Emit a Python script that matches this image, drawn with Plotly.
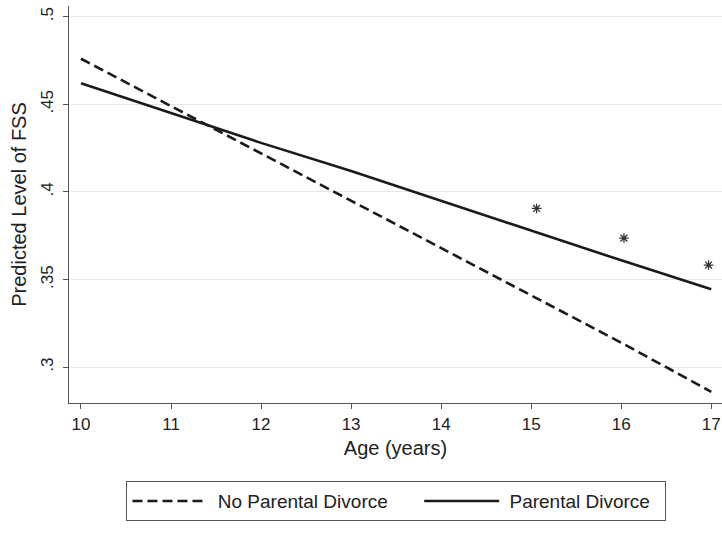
import plotly.graph_objects as go

ages = [10, 11, 12, 13, 14, 15, 16, 17]
no_divorce = [0.476, 0.449, 0.422, 0.395, 0.368, 0.341, 0.314, 0.286]
divorce = [0.462, 0.445, 0.428, 0.412, 0.395, 0.378, 0.361, 0.3445]
star_ages = [15.06, 16.03, 16.97]
star_vals = [0.3906, 0.3737, 0.3583]
y_ticks = [0.3, 0.35, 0.4, 0.45, 0.5]
y_ticklabels = [".3", ".35", ".4", ".45", ".5"]
x_ticks = [10, 11, 12, 13, 14, 15, 16, 17]
series_names = ["No Parental Divorce", "Parental Divorce"]

FONT = "Liberation Sans, Arial, sans-serif"
INK = "#1a1a1a"
NB = "\u00a0"

fig = go.Figure()
fig.add_trace(go.Scatter(x=ages, y=no_divorce, mode="lines",
                         name=NB + series_names[0] + NB * 5,
                         line=dict(color=INK, width=2.6, dash="10px,5px")))
fig.add_trace(go.Scatter(x=ages, y=divorce, mode="lines",
                         name=NB + series_names[1] + NB * 2,
                         line=dict(color=INK, width=2.6)))
fig.add_trace(go.Scatter(x=star_ages, y=star_vals, mode="markers", showlegend=False,
                         cliponaxis=False,
                         marker=dict(symbol="asterisk-open", size=8, color="#333",
                                     line=dict(color="#333", width=1.3))))

fig.update_layout(
    width=722, height=538,
    margin=dict(l=69, r=0, t=6, b=135, autoexpand=False),
    paper_bgcolor="white", plot_bgcolor="white",
    font=dict(family=FONT, size=17, color="#222"),
    showlegend=True,
    legend=dict(orientation="h", x=0.5015, xanchor="center", y=-0.197, yanchor="top",
                bordercolor="#555", borderwidth=1, itemwidth=75,
                font=dict(size=19, color="#222"), tracegroupgap=0),
    xaxis=dict(range=[9.867, 17.119], tickvals=x_ticks, ticks="outside", ticklen=5,
               tickcolor="#555", showline=True, linecolor="#555", linewidth=1.2,
               showgrid=False, zeroline=False, automargin=False,
               title=dict(text="Age (years)", standoff=8)),
    yaxis=dict(range=[0.2796, 0.5061], tickvals=y_ticks, ticktext=y_ticklabels,
               tickangle=-90, ticks="outside", ticklen=5, tickcolor="#555",
               ticklabelstandoff=3,
               showline=True, linecolor="#555", linewidth=1.2, automargin=False,
               showgrid=True, gridcolor="#e6e6e6", gridwidth=1.3, zeroline=False,
               title=dict(text="Predicted Level of FSS", standoff=6)),
)

fig.write_html("out.html", config={"displayModeBar": False},
               post_script="document.body.style.margin='0';")
